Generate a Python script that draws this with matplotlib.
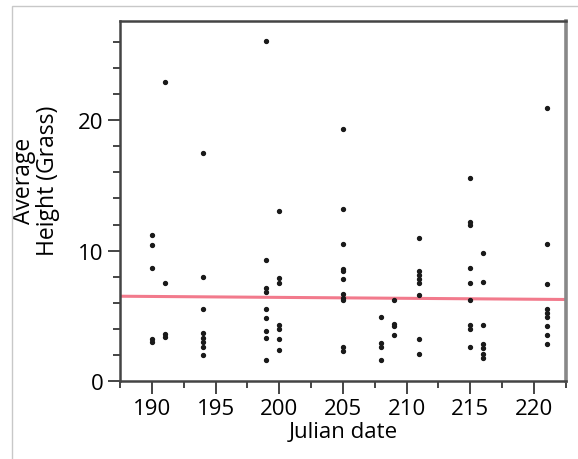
import numpy as np
import matplotlib
matplotlib.use("Agg")
from matplotlib import pyplot as plt
from matplotlib.patches import Rectangle
from matplotlib.ticker import MultipleLocator

# julian date -> average grass heights
days = [190, 191, 194, 199, 200, 205, 208, 209, 211, 215, 216, 221]
heights = [
    [11.2, 10.4, 8.7, 3.2, 3.0],
    [22.9, 7.5, 3.6, 3.4],
    [17.5, 8.0, 5.5, 3.7, 3.3, 3.0, 2.6, 2.0],
    [26.1, 9.3, 7.1, 6.8, 5.5, 4.8, 3.8, 3.3, 1.6],
    [13.0, 7.9, 7.5, 4.3, 4.0, 3.2, 2.4],
    [19.3, 13.2, 10.5, 8.6, 8.4, 7.8, 6.7, 6.4, 6.2, 2.6, 2.3],
    [4.9, 2.9, 2.6, 1.6],
    [6.2, 4.4, 4.2, 3.5],
    [11.0, 8.4, 8.1, 7.8, 7.5, 6.6, 3.2, 2.1],
    [15.6, 12.2, 12.0, 8.7, 7.5, 6.2, 4.3, 4.0, 2.6],
    [9.8, 7.6, 4.3, 2.8, 2.5, 2.1, 1.8],
    [20.9, 10.5, 7.4, 5.5, 5.2, 4.9, 4.2, 3.5, 2.8],
]

# fitted line as shown on the chart (ends of the axis range)
fit_x = [187.5, 222.5]
fit_y = [6.5, 6.25]

x = np.concatenate([[d] * len(h) for d, h in zip(days, heights)])
y = np.concatenate(heights)

plt.rcParams['font.family'] = ['Open Sans', 'DejaVu Sans']

fig = plt.figure(figsize=(5.78, 4.6), dpi=100)
ax = fig.add_axes([0.2076, 0.1696, 0.7714, 0.7824])

ax.plot(fit_x, fit_y, color='#f27a8c', lw=2.2, zorder=1)
ax.plot(x, y, 'o', color='#1a1a1a', ms=2.8, zorder=2)

ax.set_xlim(187.5, 222.5)
ax.set_ylim(0, 27.6)
ax.xaxis.set_major_locator(MultipleLocator(5))
ax.xaxis.set_minor_locator(MultipleLocator(2.5))
ax.yaxis.set_major_locator(MultipleLocator(10))
ax.yaxis.set_minor_locator(MultipleLocator(2))
ax.tick_params(which='major', direction='out', length=9, width=1.4, color='#444', labelsize=16, pad=3)
ax.tick_params(which='minor', direction='out', length=5, width=1.4, color='#444')

for s in ['left', 'bottom', 'top']:
    ax.spines[s].set_color('#444')
    ax.spines[s].set_linewidth(1.8)
ax.spines['right'].set_color('#888')
ax.spines['right'].set_linewidth(2.6)

ax.set_xlabel('Julian date', fontsize=16, labelpad=2)
ax.set_ylabel('Average\nHeight (Grass)', fontsize=16.5, linespacing=1.0)
ax.yaxis.set_label_coords(-0.135, 0.56)

# outer light frame
fig.patches.append(Rectangle((12 / 578, -0.1), 1.2, 1.1 - 7 / 460,
                             transform=fig.transFigure, fill=False,
                             edgecolor='#c8c8c8', lw=1.0))

fig.savefig('out.png', dpi=100)
